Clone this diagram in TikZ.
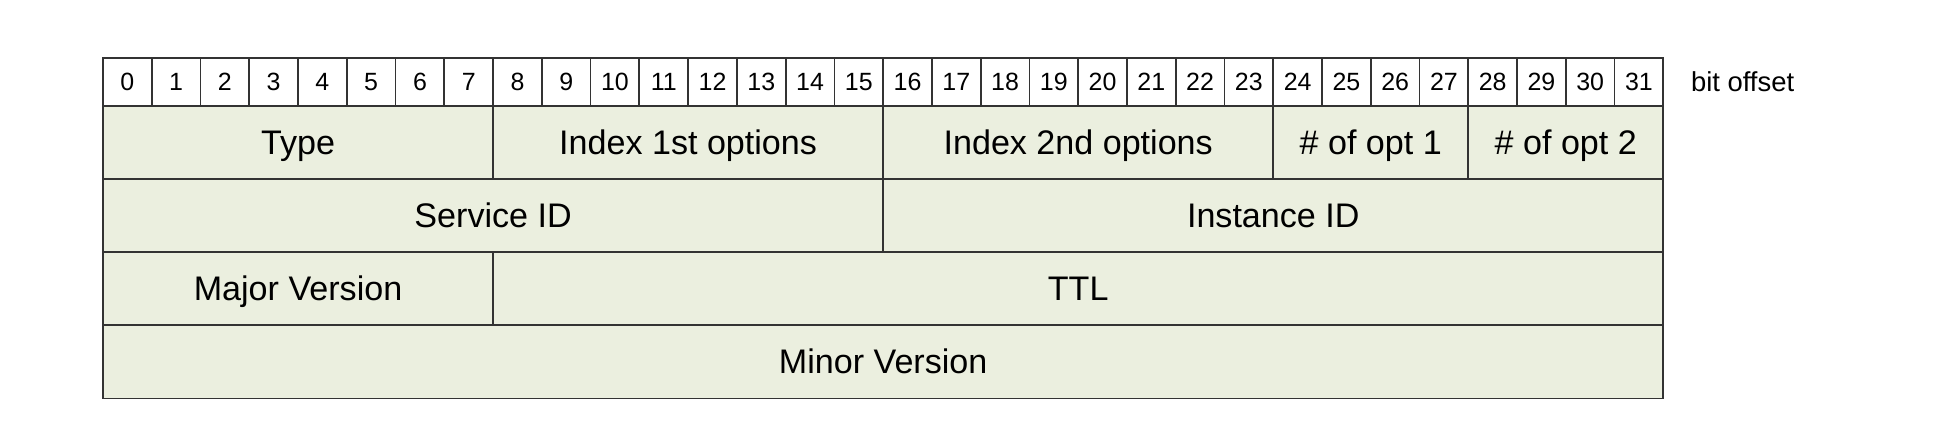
\documentclass[tikz,border=0pt]{standalone}
\usepackage{fontspec}
\setmainfont{Liberation Sans}
\usepackage{tikz}
\usetikzlibrary{positioning}
\definecolor{fieldgreen}{RGB}{235,239,223}
\definecolor{gridline}{RGB}{51,51,51}
\newcommand{\bitw}{0.4876cm}
\newcommand{\rowh}{0.731cm}

\begin{document}
\begin{tikzpicture}[
gridlines/.style = {draw=gridline, line width=0.5pt},
bitcell/.style = {gridlines, rectangle, fill=white, inner sep=0pt, outer sep=0pt,
	minimum width=\bitw, minimum height=0.483cm, text height=5.1pt, text depth=0pt,
	font=\fontsize{7.1}{8}\selectfont},
field/.style = {gridlines, rectangle, fill=fieldgreen, inner sep=0pt, outer sep=0pt,
	anchor=north west, minimum height=\rowh, text height=6.9pt, text depth=0pt,
	font=\fontsize{9.7}{11}\selectfont},
offsettext/.style = {font=\fontsize{7.8}{9}\selectfont, anchor=west, inner sep=0pt,
	text height=5.6pt, text depth=0pt}
]
\useasboundingbox (-1.03,0.577) rectangle (18.49,-3.703);

% bit numbers
\foreach \i in {0,...,31}
	\node[bitcell] (bit\i) at ({(\i+0.5)*0.4876}, -0.2415) {\i};
\node[offsettext, right = 0.27cm of bit31] (offset) {bit offset};

% first row
\node[field, minimum width=8*\bitw] (type) at (0,-0.483) {Type};
\node[field, minimum width=8*\bitw] (idx1) at (8*0.4876,-0.483) {Index 1st options};
\node[field, minimum width=8*\bitw] (idx2) at (16*0.4876,-0.483) {Index 2nd options};
\node[field, minimum width=4*\bitw] (nopt1) at (24*0.4876,-0.483) {\# of opt 1};
\node[field, minimum width=4*\bitw] (nopt2) at (28*0.4876,-0.483) {\# of opt 2};

% second row
\node[field, minimum width=16*\bitw] (service) at (0,-1.214) {Service ID};
\node[field, minimum width=16*\bitw] (instance) at (16*0.4876,-1.214) {Instance ID};

% third row
\node[field, minimum width=8*\bitw] (major) at (0,-1.945) {Major Version};
\node[field, minimum width=24*\bitw] (ttl) at (8*0.4876,-1.945) {TTL};

% fourth row
\node[field, minimum width=32*\bitw] (minor) at (0,-2.676) {Minor Version};
\end{tikzpicture}
\end{document}
